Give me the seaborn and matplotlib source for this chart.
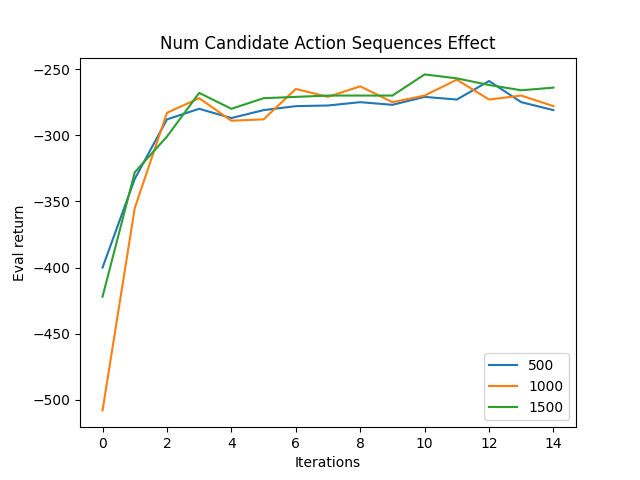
import matplotlib
matplotlib.use("Agg")
import matplotlib.pyplot as plt
import seaborn as sns
import pandas as pd

iterations = list(range(15))
s500 = [-400, -333, -288, -280, -287, -281, -278, -277.5, -275, -277, -271, -273, -259, -275, -281]
s1000 = [-508, -355, -283, -272, -289, -288, -265, -271, -263, -275, -270, -258, -273, -270, -278]
s1500 = [-422, -328, -301, -268, -280, -272, -271, -270, -270, -270, -254, -257, -262, -266, -264]

df = pd.concat([
    pd.DataFrame({"Iterations": iterations, "Eval return": s, "series": name})
    for name, s in [("500", s500), ("1000", s1000), ("1500", s1500)]
])

fig, ax = plt.subplots(figsize=(6.4, 4.8), dpi=100)
sns.lineplot(data=df, x="Iterations", y="Eval return", hue="series",
             palette=["#1f77b4", "#ff7f0e", "#2ca02c"], ax=ax)
ax.legend(loc="lower right")
ax.set_title("Num Candidate Action Sequences Effect")
fig.savefig("out.png")
